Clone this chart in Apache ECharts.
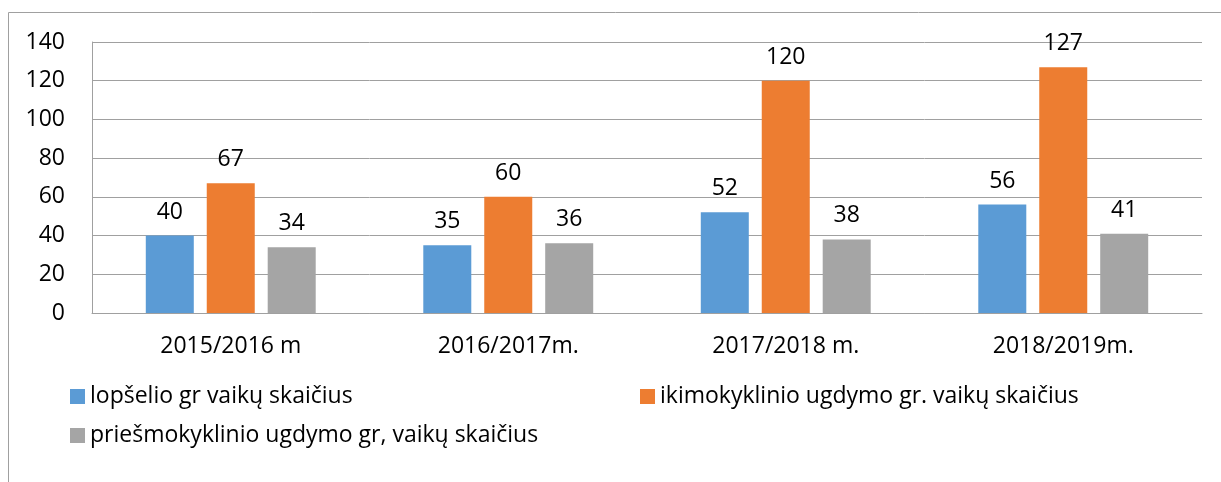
<!DOCTYPE html>
<html>
<head>
<meta charset="utf-8">
<script src="https://cdn.jsdelivr.net/npm/echarts@6/dist/echarts.min.js"></script>
<style>
html,body{margin:0;padding:0;background:#fff;}
#chart{width:1221px;height:482px;}
</style>
</head>
<body>
<div id="chart"></div>
<script>
const categories = ['2015/2016 m', '2016/2017m.', '2017/2018 m.', '2018/2019m.'];
const seriesNames = ['lopšelio gr vaikų skaičius', 'ikimokyklinio ugdymo gr. vaikų skaičius', 'priešmokyklinio ugdymo gr, vaikų skaičius'];
const lopselis = [40, 35, 52, 56];
const ikimokyklinis = [67, 60, 120, 127];
const priesmokyklinis = [34, 36, 38, 41];
const colors = ['#5B9BD5', '#ED7D31', '#A5A5A5'];

const FONT = '"Open Sans"';
const FS = 23;
const chart = echarts.init(document.getElementById('chart'));
const labelCfg = {show: true, position: 'top', distance: 12, color: '#000', fontFamily: FONT, fontSize: FS};
const legendText = {color: '#000', fontFamily: FONT, fontSize: FS};
function legend(name, left, top) {
  return {data: [name], left: left, top: top, itemWidth: 15, itemHeight: 15, itemGap: 0,
    icon: 'rect', textStyle: legendText, padding: 0, selectedMode: false};
}
chart.setOption({
  animation: false,
  color: colors,
  graphic: [{type: 'rect', shape: {x: 8.5, y: 12.5, width: 1400, height: 700},
    style: {fill: 'none', stroke: '#a0a0a0', lineWidth: 1}, silent: true}],
  legend: [
    legend(seriesNames[0], 70, 385),
    legend(seriesNames[1], 640, 385),
    legend(seriesNames[2], 70, 424)
  ],
  grid: {left: 92, right: 19, top: 42, bottom: 169, containLabel: false},
  xAxis: {
    type: 'category', data: categories,
    axisLine: {lineStyle: {color: '#a0a0a0', width: 1}},
    axisTick: {show: false},
    axisLabel: {color: '#000', fontFamily: FONT, fontSize: FS, margin: 22}
  },
  yAxis: {
    type: 'value', min: 0, max: 140, interval: 20,
    axisLine: {show: true, lineStyle: {color: '#a0a0a0', width: 1}},
    axisTick: {show: false},
    splitLine: {lineStyle: {color: '#a0a0a0', width: 1}},
    axisLabel: {color: '#000', fontFamily: FONT, fontSize: FS, margin: 27}
  },
  series: [
    {name: seriesNames[0], type: 'bar', data: lopselis, barWidth: 48, barGap: '27%', label: labelCfg},
    {name: seriesNames[1], type: 'bar', data: ikimokyklinis, barWidth: 48, barGap: '27%', label: labelCfg},
    {name: seriesNames[2], type: 'bar', data: priesmokyklinis, barWidth: 48, barGap: '27%', label: labelCfg}
  ]
});
</script>
</body>
</html>
